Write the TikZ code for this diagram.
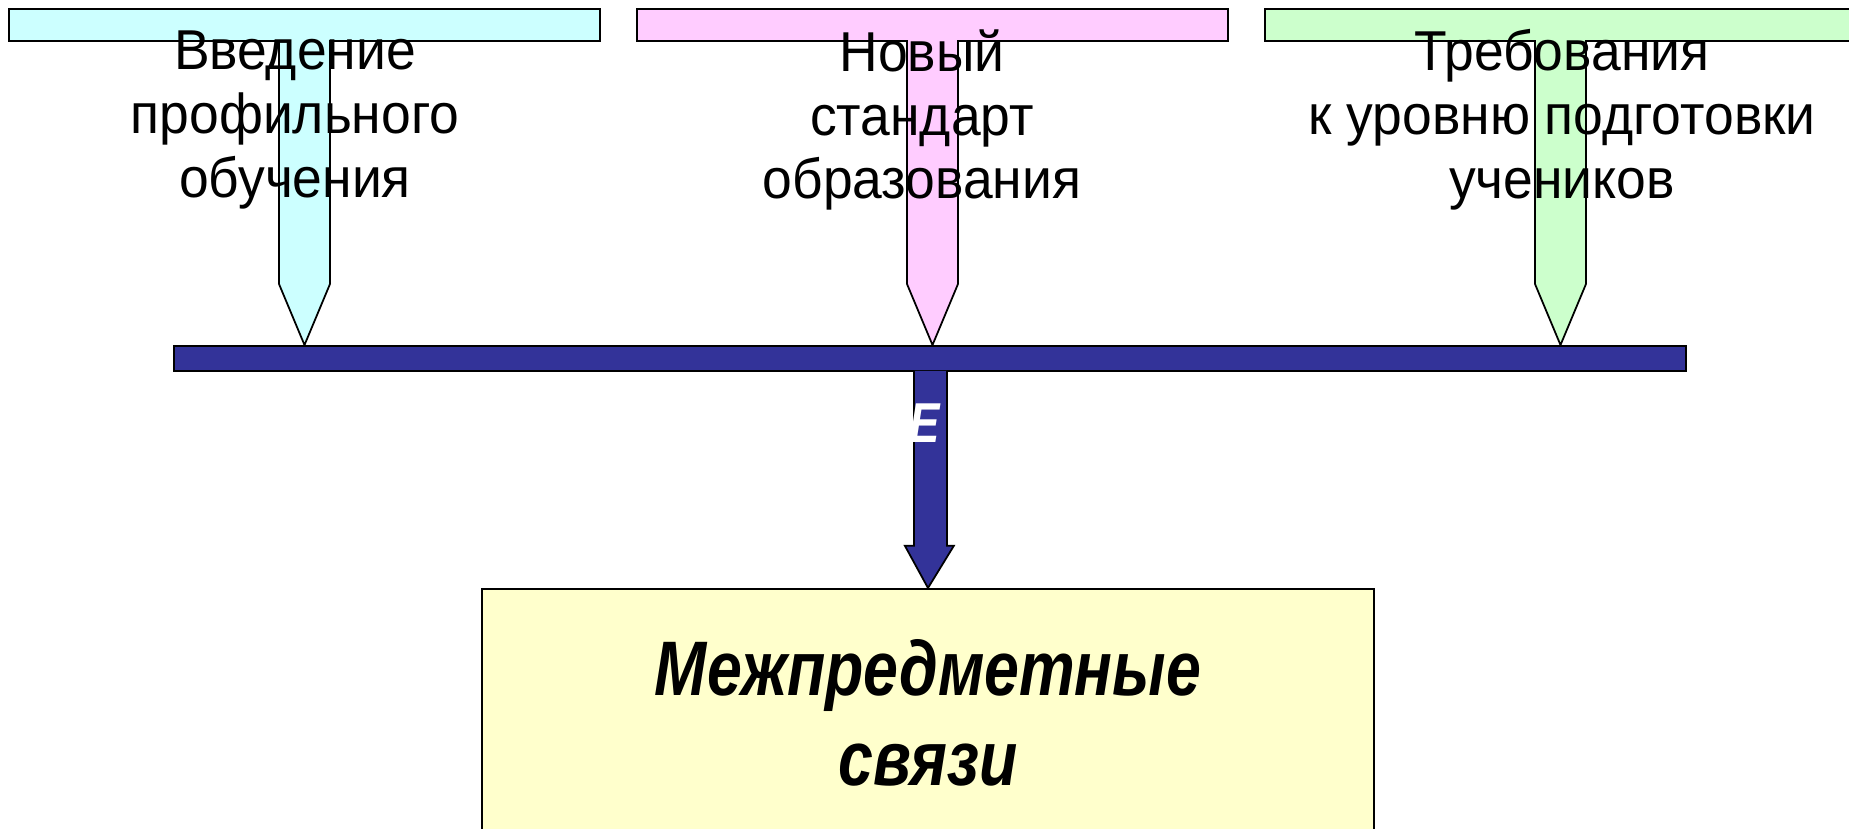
\documentclass[tikz,border=0pt]{standalone}
\usepackage{fontspec}
\setmainfont{Liberation Sans}
\newfontfamily\narrowfont[FakeStretch=0.95]{Liberation Sans}
\newfontfamily\heavyfont[FakeStretch=0.81]{Liberation Sans}
\usetikzlibrary{calc}

\definecolor{srccyan}{HTML}{CCFFFF}
\definecolor{srcpink}{HTML}{FFCCFF}
\definecolor{srcgreen}{HTML}{CCFFCC}
\definecolor{hubblue}{HTML}{333399}
\definecolor{goalyellow}{HTML}{FFFFCC}

\tikzset{
  tee/.style={draw=black, line width=0.5pt},
  caption/.style={align=center, inner sep=0pt, font=\narrowfont\fontsize{16}{18.2}\selectfont},
  goal/.style={draw=black, line width=0.5pt, fill=goalyellow, inner sep=0pt,
    minimum width=8.92cm, minimum height=2.48cm, align=center,
    font=\heavyfont\bfseries\itshape\fontsize{22}{25.5}\selectfont},
}

\begin{document}
\begin{tikzpicture}
    \useasboundingbox (0,0) rectangle (18.49,-8.29);
    \clip (0,0) rectangle (18.49,-8.29);
    % Sources.
    \foreach \x/\c in {0.09/srccyan, 6.37/srcpink, 12.65/srcgreen}
    \filldraw[tee, fill=\c] (\x,-0.09) -- ++(5.91,0) -- ++(0,-0.32) -- ++(-2.70,0)
      -- ++(0,-2.43) -- ++(-0.255,-0.61) -- ++(-0.255,0.61) -- ++(0,2.43) -- ++(-2.70,0) -- cycle;
    \node[caption] (profile) at (2.95,-1.20) {Введение\\профильного\\обучения};
    \node[caption] (standard) at (9.22,-1.20) {Новый\\стандарт\\образования};
    \node[caption] (level) at (15.62,-1.20) {Требования\\к уровню подготовки\\учеников};
    % Hub.
    \node[draw=black, line width=0.5pt, fill=hubblue, inner sep=0pt, anchor=north west,
      minimum width=15.12cm, minimum height=0.25cm] (hub) at (1.73,-3.45) {};
    % Goal.
    \node[goal, anchor=north] (links) at (9.28,-5.88) {Межпредметные\\связи};
    \filldraw[line width=0.5pt, fill=hubblue] ($(hub.south)+(-0.16,0.01)$) -- ++(0,-1.75)
      -- ++(-0.09,0) -- (links.north) -- ($(hub.south)+(0.24,-1.74)$) -- ++(-0.07,0)
      -- ($(hub.south)+(0.17,0.01)$);
    \node[text=white, font=\heavyfont\bfseries\itshape\fontsize{16}{18}\selectfont] (mark) at (9.25,-4.23) {E};
\end{tikzpicture}
\end{document}
